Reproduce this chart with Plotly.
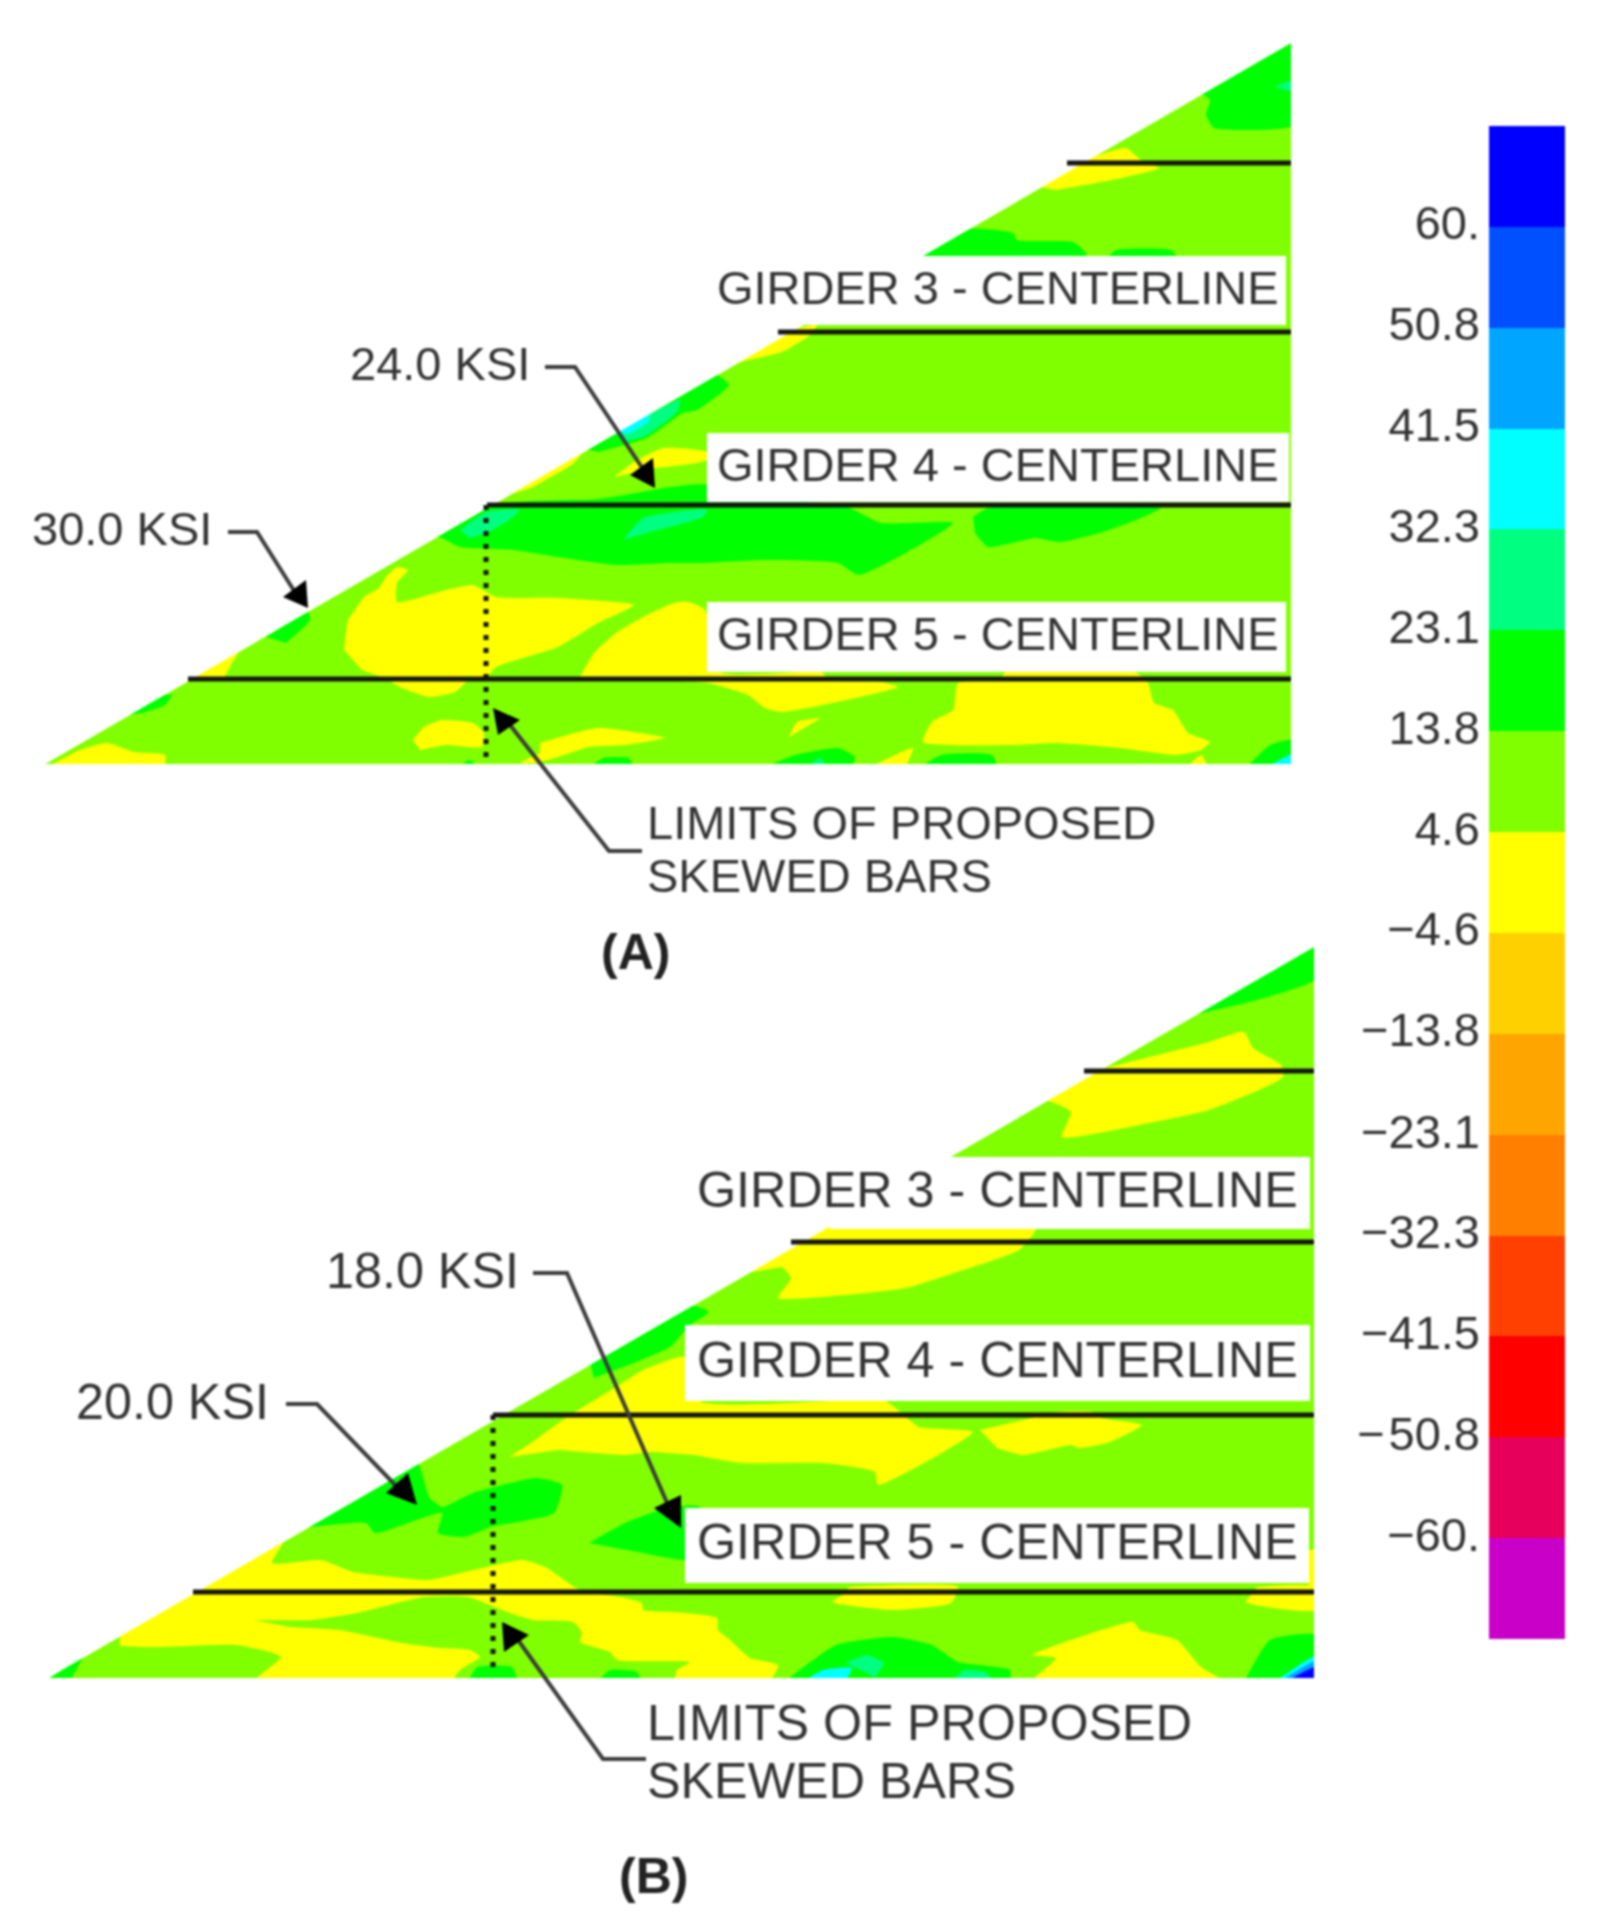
"""Contour plots of girder stress, panels A and B, with a stepped colour key."""

import plotly.graph_objects as go

WIDTH, HEIGHT = 1602, 1929
FONT = "Liberation Sans"
TEXT_COLOR = "#333333"

# colour key, from the lowest band to the highest
BAND_EDGES = [-69.2, -60, -50.8, -41.5, -32.3, -23.1, -13.8, -4.6, 4.6, 13.8, 23.1, 32.3, 41.5, 50.8, 60, 69.2]
BAND_COLORS = ["#c800c8", "#e6005c", "#ff0000", "#ff4000", "#ff8000", "#ffa500", "#ffd000", "#ffff00",
               "#80ff00", "#00ff00", "#00ff80", "#00ffff", "#00a5ff", "#0050ff", "#0000ff"]
TICK_VALUES = BAND_EDGES[1:-1]
TICK_LABELS = ["\u221260.", "\u2212\u200a50.8", "\u221241.5", "\u221232.3", "\u221223.1", "\u221213.8", "\u22124.6",
               "4.6", "13.8", "23.1", "32.3", "41.5", "50.8", "60."]
YELLOW, LIME, GREEN, MINT, CYAN, SKY, ROYAL = "#ffff00", "#80ff00", "#00ff00", "#00ff80", "#00ffff", "#00a5ff", "#0000ff"

# triangle of each panel: lower left, top right, lower right
PANEL_A_OUTLINE = [(45, 764), (1291, 43), (1291, 764)]
PANEL_B_OUTLINE = [(48, 1678), (1314, 947), (1314, 1678)]

# contour regions, drawn in order, in picture coordinates
PANEL_A_REGIONS = [
    (YELLOW, [(344, 650), (348, 620), (355, 610), (364, 597), (379, 588), (386, 577), (397, 567), (408, 570), (397, 583),
              (397, 602), (446, 590), (473, 585), (496, 597), (558, 598), (634, 605), (598, 623), (558, 647), (496, 667),
              (487, 677), (469, 680), (455, 692), (429, 697), (402, 688), (384, 678), (362, 670)]),
    (YELLOW, [(580, 677), (594, 653), (616, 633), (643, 617), (674, 603), (688, 602), (705, 610), (720, 672), (821, 672),
              (830, 680), (881, 682), (898, 687), (782, 712), (765, 708), (748, 695), (708, 683), (650, 680)]),
    (YELLOW, [(1005, 672), (1135, 672), (1148, 683), (1154, 703), (1173, 710), (1188, 733), (1210, 742), (1201, 750),
              (1176, 755), (1120, 748), (1056, 743), (1013, 745), (923, 742), (932, 722), (953, 710), (956, 690),
              (958, 683), (1000, 680)]),
    (YELLOW, [(821, 718), (797, 722), (789, 737)]),
    (YELLOW, [(540, 743), (598, 728), (665, 738), (625, 745), (589, 747), (558, 757), (536, 763), (520, 763), (540, 753)]),
    (YELLOW, [(872, 766), (913, 748), (906, 766)]),
    (YELLOW, [(1188, 766), (1201, 755), (1208, 766)]),
    (YELLOW, [(413, 740), (424, 727), (442, 720), (473, 723), (484, 733), (482, 747), (446, 745), (420, 750)]),
    (YELLOW, [(45, 768), (80, 750), (107, 743), (134, 752), (165, 755), (165, 768)]),
    (YELLOW, [(188, 679), (241, 648), (232, 663), (223, 680)]),
    (YELLOW, [(505, 496), (583, 451), (574, 463), (531, 488)]),
    (YELLOW, [(614, 477), (634, 462), (663, 448), (707, 452), (707, 460), (656, 468)]),
    (YELLOW, [(1040, 187), (1090, 158), (1126, 148), (1141, 160), (1159, 168), (1112, 180), (1056, 190)]),
    (YELLOW, [(738, 363), (778, 339), (795, 329), (817, 325), (810, 335), (782, 352), (748, 360)]),
    (GREEN, [(436, 536), (487, 505), (842, 505), (881, 523), (953, 523), (859, 575), (838, 563), (761, 560), (701, 563),
             (670, 563), (616, 565), (558, 557), (513, 550), (460, 547), (446, 540)]),
    (GREEN, [(554, 505), (625, 495), (670, 487), (707, 485), (707, 505)]),
    (GREEN, [(973, 517), (988, 508), (1161, 508), (1141, 518), (1103, 532), (1060, 542), (1035, 538), (988, 547), (975, 533)]),
    (GREEN, [(585, 449), (714, 374), (729, 385), (697, 410), (683, 413), (647, 438), (598, 452)]),
    (GREEN, [(1198, 92), (1210, 100), (1206, 115), (1214, 128), (1248, 130), (1295, 125), (1295, 38)]),
    (GREEN, [(920, 256), (966, 229), (1013, 233), (1017, 240), (1073, 242), (1086, 253), (1086, 258)]),
    (GREEN, [(1107, 258), (1116, 250), (1171, 250), (1178, 258)]),
    (GREEN, [(458, 768), (469, 760), (480, 768)]),
    (GREEN, [(589, 768), (603, 758), (629, 758), (634, 768)]),
    (GREEN, [(763, 768), (795, 755), (838, 748), (855, 757), (851, 768)]),
    (GREEN, [(919, 768), (941, 755), (992, 755), (998, 768)]),
    (GREEN, [(1246, 768), (1270, 745), (1295, 740), (1295, 768)]),
    (GREEN, [(127, 715), (156, 696), (172, 695), (165, 705), (143, 713)]),
    (GREEN, [(266, 637), (308, 612), (310, 620), (286, 643)]),
    (MINT, [(460, 530), (487, 512), (520, 510), (509, 520), (487, 533), (469, 538)]),
    (MINT, [(623, 540), (643, 518), (707, 510), (703, 517), (650, 532)]),
    (MINT, [(615, 433), (680, 400), (677, 412), (647, 435), (625, 442)]),
    (MINT, [(808, 768), (819, 758), (829, 768)]),
    (CYAN, [(616, 432), (650, 410), (648, 422), (628, 434)]),
    (CYAN, [(1265, 768), (1295, 753), (1295, 768)]),
    (MINT, [(1274, 87), (1295, 80), (1295, 92)]),
]
PANEL_B_REGIONS = [
    (GREEN, [(1193, 1015), (1257, 1000), (1318, 978), (1318, 942)]),
    (YELLOW, [(1097, 1070), (1149, 1057), (1209, 1042), (1244, 1032), (1253, 1048), (1281, 1065), (1283, 1077), (1209, 1110),
              (1149, 1123), (1062, 1137), (1071, 1112), (1046, 1100)]),
    (YELLOW, [(746, 1273), (824, 1228), (1036, 1228), (1019, 1250), (954, 1273), (906, 1288), (823, 1297), (778, 1298),
              (791, 1278), (782, 1267)]),
    (GREEN, [(590, 1363), (689, 1305), (709, 1312), (690, 1325), (670, 1347), (594, 1378)]),
    (YELLOW, [(509, 1457), (531, 1443), (567, 1417), (616, 1387), (643, 1370), (679, 1357), (700, 1357), (700, 1401),
              (885, 1401), (906, 1417), (919, 1427), (973, 1432), (878, 1485), (875, 1472), (823, 1463), (741, 1463),
              (693, 1455), (650, 1452), (625, 1455), (594, 1453), (558, 1450)]),
    (YELLOW, [(980, 1430), (1023, 1420), (1058, 1412), (1092, 1412), (1101, 1418), (1142, 1425), (1110, 1442), (1079, 1448),
              (1071, 1445), (1023, 1455), (997, 1448)]),
    (GREEN, [(304, 1528), (417, 1463), (429, 1497), (442, 1507), (473, 1493), (536, 1478), (562, 1485), (554, 1513), (491, 1527),
             (464, 1537), (438, 1533), (442, 1513), (375, 1533), (366, 1523), (312, 1527)]),
    (GREEN, [(589, 1543), (625, 1523), (670, 1507), (700, 1507), (700, 1560), (643, 1553)]),
    (YELLOW, [(201, 1587), (286, 1537), (272, 1563), (321, 1560), (353, 1572), (393, 1577), (429, 1580), (473, 1570), (522, 1560),
              (545, 1567), (580, 1590), (620, 1597), (642, 1603), (643, 1610), (673, 1612), (717, 1618), (718, 1630), (730, 1640),
              (750, 1658), (778, 1665), (768, 1682), (254, 1682), (281, 1657), (237, 1645), (156, 1647), (120, 1645), (121, 1634)]),
    (LIME, [(254, 1620), (312, 1620), (357, 1613), (424, 1597), (468, 1597), (510, 1613), (533, 1620), (573, 1622), (582, 1633),
            (580, 1642), (610, 1652), (617, 1660), (690, 1662), (677, 1670), (673, 1682), (453, 1682), (460, 1670), (480, 1657),
            (470, 1650), (440, 1648), (402, 1643), (339, 1630), (290, 1627)]),
    (YELLOW, [(849, 1587), (958, 1587), (951, 1603), (893, 1610), (832, 1602), (843, 1595)]),
    (YELLOW, [(1257, 1587), (1318, 1587), (1318, 1610), (1266, 1607), (1246, 1602), (1253, 1593)]),
    (YELLOW, [(1309, 1550), (1318, 1550), (1318, 1587), (1309, 1587)]),
    (YELLOW, [(1029, 1682), (1056, 1658), (1032, 1655), (1133, 1622), (1140, 1630), (1177, 1640), (1201, 1667), (1227, 1682)]),
    (GREEN, [(784, 1682), (836, 1645), (893, 1637), (932, 1645), (958, 1662), (1010, 1670), (1010, 1682)]),
    (GREEN, [(1244, 1682), (1270, 1640), (1318, 1635), (1318, 1682)]),
    (GREEN, [(45, 1682), (83, 1656), (69, 1682)]),
    (GREEN, [(468, 1682), (477, 1667), (512, 1667), (518, 1682)]),
    (GREEN, [(597, 1682), (610, 1670), (637, 1672), (642, 1682)]),
    (MINT, [(845, 1663), (867, 1655), (884, 1663), (875, 1677)]),
    (MINT, [(950, 1682), (965, 1670), (985, 1672), (995, 1682)]),
    (CYAN, [(802, 1682), (823, 1670), (852, 1668), (845, 1682)]),
    (CYAN, [(1274, 1682), (1318, 1655), (1318, 1682)]),
    (SKY, [(1279, 1682), (1318, 1660), (1318, 1682)]),
    (ROYAL, [(1285, 1682), (1318, 1666), (1318, 1682)]),
]

# white label boxes: left, top, right, bottom
LABEL_BOXES = [(800, 256, 1286, 325), (707, 433, 1289, 502), (707, 602, 1286, 672),
               (830, 1157, 1310, 1229), (685, 1325, 1310, 1401), (685, 1508, 1309, 1583)]

# girder centrelines and the dotted limit lines
CENTERLINES = [(1067, 163), (778, 332), (487, 505), (188, 679), (1084, 1071), (791, 1242), (493, 1415), (193, 1592)]
CENTERLINE_ENDS = [1291, 1291, 1291, 1291, 1314, 1314, 1314, 1314]
LIMIT_LINES = [(486, 505, 760), (493, 1415, 1673)]

LEADERS = [
    [(228, 532), (257, 532), (298, 597)],
    [(545, 367), (575, 367), (645, 472)],
    [(642, 851), (609, 851), (510, 725)],
    [(286, 1404), (317, 1404), (400, 1490)],
    [(533, 1273), (567, 1273), (668, 1505)],
    [(646, 1759), (603, 1759), (518, 1640)],
]
ARROW_HEADS = [
    [(308, 608), (283, 597), (306, 580)],
    [(655, 488), (630, 475), (653, 458)],
    [(493, 708), (520, 720), (498, 735)],
    [(417, 1505), (386, 1493), (408, 1473)],
    [(681, 1528), (654, 1508), (681, 1495)],
    [(502, 1622), (529, 1635), (504, 1652)],
]

# text: string, left x, centre y, size
TEXTS = [
    ("GIRDER 3 - CENTERLINE", 715, 287, 47), ("GIRDER 4 - CENTERLINE", 715, 464, 47), ("GIRDER 5 - CENTERLINE", 715, 633, 47),
    ("24.0 KSI", 348, 363, 47), ("30.0 KSI", 30, 528, 47),
    ("LIMITS OF PROPOSED", 645, 822, 47), ("SKEWED BARS", 645, 875, 47),
    ("GIRDER 3 - CENTERLINE", 695, 1189, 50.3), ("GIRDER 4 - CENTERLINE", 695, 1359, 50.3), ("GIRDER 5 - CENTERLINE", 695, 1541, 50.3),
    ("18.0 KSI", 324, 1270, 50.3), ("20.0 KSI", 74, 1401, 50.3),
    ("LIMITS OF PROPOSED", 645, 1722, 50.3), ("SKEWED BARS", 645, 1780, 50.3),
]
PANEL_TITLES = [("(A)", 635, 952), ("(B)", 653, 1876)]


def add_fill(fig, points, color, smooth=False):
    xs, ys = zip(*points)
    line = dict(width=0, shape="spline", smoothing=0.5) if smooth else dict(width=0)
    fig.add_trace(go.Scatter(x=xs, y=ys, mode="lines", fill="toself", fillcolor=color,
                             line=line, hoverinfo="skip", showlegend=False))


def add_line(fig, xs, ys, color, width, dash="solid"):
    fig.add_trace(go.Scatter(x=xs, y=ys, mode="lines", line=dict(color=color, width=width, dash=dash),
                             hoverinfo="skip", showlegend=False))


def add_panel(fig, outline, regions):
    add_fill(fig, outline, LIME)
    for color, points in regions:
        add_fill(fig, points, color, smooth=True)
    # regions may spill over the triangle edge, so the outside is painted white again
    (x0, y0), (x1, y1), (x2, y2) = outline
    pad = 24
    add_fill(fig, [(x0 - pad, y0), (x0, y0), (x1, y1), (x1, y1 - pad), (x0 - pad, y1 - pad)], "#ffffff")
    add_fill(fig, [(x0 - pad, y2), (x2 + pad, y2), (x2 + pad, y2 + pad), (x0 - pad, y2 + pad)], "#ffffff")
    add_fill(fig, [(x1, y1 - pad), (x1 + pad, y1 - pad), (x1 + pad, y2), (x1, y2)], "#ffffff")


fig = go.Figure()

add_panel(fig, PANEL_A_OUTLINE, PANEL_A_REGIONS)
add_panel(fig, PANEL_B_OUTLINE, PANEL_B_REGIONS)

for left, top, right, bottom in LABEL_BOXES:
    add_fill(fig, [(left, top), (right, top), (right, bottom), (left, bottom)], "#ffffff")

for x, top, bottom in LIMIT_LINES:
    add_line(fig, [x, x], [top, bottom], "#141414", 5, dash="5px,8px")
for (x0, y), x1 in zip(CENTERLINES, CENTERLINE_ENDS):
    add_line(fig, [x0, x1], [y, y], "#141414", 5)

for leader in LEADERS:
    xs, ys = zip(*leader)
    add_line(fig, xs, ys, "#3c3c3c", 4)
for head in ARROW_HEADS:
    add_fill(fig, head, "#000000")

# the colour key is a one-column heatmap on its own axes
steps = len(BAND_COLORS)
colorscale = []
for i, color in enumerate(BAND_COLORS):
    colorscale += [[i / steps, color], [(i + 1) / steps, color]]
fig.add_trace(go.Heatmap(
    x=[0, 1], y=BAND_EDGES, z=[[i] for i in range(steps)],
    zmin=-0.5, zmax=steps - 0.5, colorscale=colorscale, showscale=False, hoverinfo="skip",
    xaxis="x2", yaxis="y2",
))

for text, x, y, size in TEXTS:
    fig.add_annotation(text=text, x=x, y=y, xref="x", yref="y", xanchor="left", yanchor="middle", showarrow=False,
                       font=dict(family=FONT, size=size, color=TEXT_COLOR))
for text, x, y in PANEL_TITLES:
    fig.add_annotation(text=f"<b>{text}</b>", x=x, y=y, xref="x", yref="y", showarrow=False,
                       font=dict(family=FONT, size=50, color="#222222"))

fig.update_layout(
    width=WIDTH, height=HEIGHT, margin=dict(l=0, r=0, t=0, b=0),
    paper_bgcolor="#ffffff", plot_bgcolor="#ffffff",
    xaxis=dict(range=[0, WIDTH], domain=[0, 1], visible=False),
    yaxis=dict(range=[HEIGHT, 0], domain=[0, 1], visible=False),
    xaxis2=dict(range=[0, 1], domain=[1489 / WIDTH, 1565 / WIDTH], anchor="y2", visible=False),
    yaxis2=dict(range=[BAND_EDGES[0], BAND_EDGES[-1]], domain=[1 - 1639 / HEIGHT, 1 - 126 / HEIGHT], anchor="x2",
                # the labels sit a little above the band edges they name
                tickvals=[v + 0.35 for v in TICK_VALUES], ticktext=TICK_LABELS, ticks="", showgrid=False,
                zeroline=False, showline=False, ticklabelstandoff=8,
                tickfont=dict(family=FONT, size=47, color=TEXT_COLOR)),
)

# the source figure is a soft, upscaled raster
fig.write_html("out.html", config={"displayModeBar": False},
               post_script="document.body.style.margin='0';document.body.style.filter='blur(0.8px)';")
